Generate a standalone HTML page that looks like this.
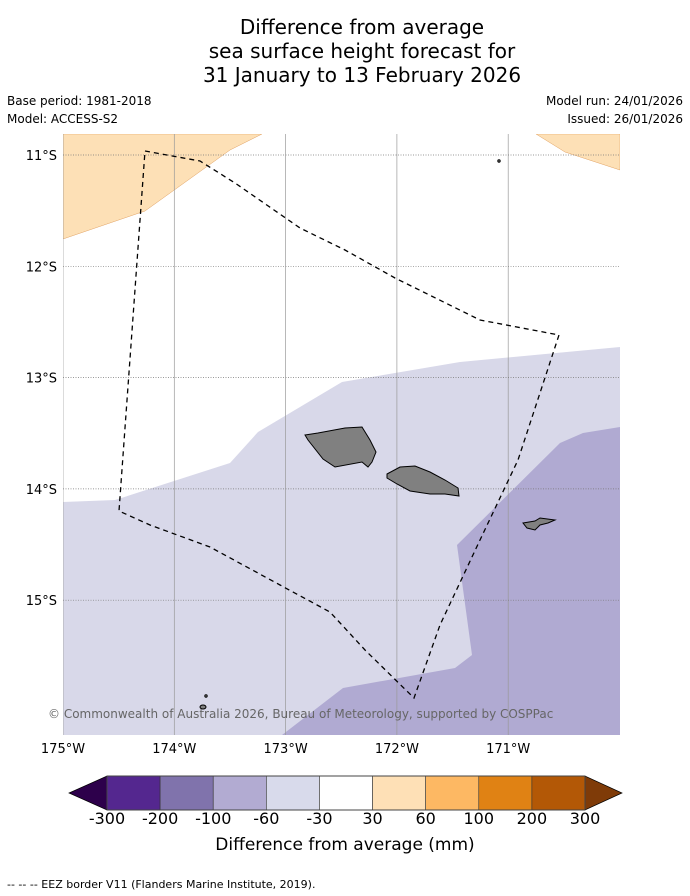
<!DOCTYPE html>
<html><head><meta charset="utf-8"><style>
body{margin:0;background:#fff;font-family:"Liberation Sans","DejaVu Sans",sans-serif}
#wrap{position:relative;width:690px;height:896px;overflow:hidden}
</style></head><body>
<div id="wrap">
<svg id="svg" width="690" height="896" xmlns="http://www.w3.org/2000/svg" font-family="DejaVu Sans, Liberation Sans, sans-serif">
<g font-size="20" text-anchor="middle" fill="#000">
<text x="362" y="34">Difference from average</text>
<text x="362" y="58">sea surface height forecast for</text>
<text x="362" y="82">31 January to 13 February 2026</text>
</g>
<g font-size="12" fill="#000">
<text x="7" y="105">Base period: 1981-2018</text>
<text x="7" y="123">Model: ACCESS-S2</text>
<text x="683" y="105" text-anchor="end">Model run: 24/01/2026</text>
<text x="683" y="123" text-anchor="end">Issued: 26/01/2026</text>
</g>
<defs><clipPath id="mc"><rect x="63" y="134" width="557" height="601"/></clipPath></defs>
<g id="map" clip-path="url(#mc)">
<rect x="63" y="134" width="557" height="601" fill="#fff"/>
<polygon points="63,134 262,134 230,150 145,211 63,239" fill="#fde0b6" stroke="#e0a060" stroke-width="0.5"/>
<polygon points="536,134 620,134 620,170 565,152" fill="#fde0b6" stroke="#e0a060" stroke-width="0.5"/>
<polygon points="63,502 115,500 230,463 258,432 342,382 460,362 620,347 620,735 63,735" fill="#d8d8e9"/>
<polygon points="620,427 583,433 560,443 457,545 472,655 455,668 343,688 282,735 620,735" fill="#b0aad2"/>
<g id="grid"></g>
<polyline points="145,151 200,161 235,183 300,228 345,250 395,278 480,320 559,335 518,460 480,540 440,625 414,698 365,650 330,612 280,585 210,547 150,525 119,511 145,151" fill="none" stroke="#000" stroke-width="1.3" stroke-dasharray="5,4"/>
<g fill="#808080" stroke="#000" stroke-width="1">
<polygon points="305,435 318,433 345,428 362,427 370,440 376,452 372,462 368,467 362,462 335,467 323,459 308,440"/>
<polygon points="387,474 400,467 415,466 430,472 445,480 458,488 459,496 445,494 430,494 410,491 397,484 387,478"/>
<polygon points="523,523 535,521 540,518 555,520 548,523 540,525 535,530 527,528"/>
<circle cx="499" cy="161" r="1.2"/><circle cx="206" cy="696" r="1.2"/><ellipse cx="203" cy="707" rx="3" ry="2"/>
</g>
</g>
<text x="48" y="718" font-size="12" fill="#666">© Commonwealth of Australia 2026, Bureau of Meteorology, supported by COSPPac</text>
<g id="axes" font-size="13" fill="#000"></g>
<g id="cbar"></g>
<text x="345" y="850" font-size="17" text-anchor="middle">Difference from average (mm)</text>
<text x="7" y="888" font-size="11">--  --  -- EEZ border V11 (Flanders Marine Institute, 2019).</text>
</svg>
</div>
<script>
const lonTicks=[-175,-174,-173,-172,-171];
const latTicks=[-11,-12,-13,-14,-15];
const lonLabels=["175°W","174°W","173°W","172°W","171°W"];
const latLabels=["11°S","12°S","13°S","14°S","15°S"];
const cbLevels=["-300","-200","-100","-60","-30","30","60","100","200","300"];
const cbColors=["#54278f","#8073ac","#b2abd2","#d8daeb","#ffffff","#fee0b6","#fdb863","#e08214","#b35806"];
const cbExt=["#2d004b","#7f3b08"];
const NS="http://www.w3.org/2000/svg";
const px=d=>63+(d+175)*111.3, py=d=>155+(-11-d)*111.3;
function mk(t,a,p){const e=document.createElementNS(NS,t);for(const k in a)e.setAttribute(k,a[k]);p.appendChild(e);return e;}
const grid=document.getElementById('grid'),axes=document.getElementById('axes'),cb=document.getElementById('cbar');
lonTicks.forEach((v,i)=>{
 const l=mk('line',{x1:px(v),x2:px(v),y1:134,y2:735,stroke:'#999','stroke-width':0.7},grid);
 
 
 const t=mk('text',{x:px(v),y:753,'text-anchor':'middle'},axes);t.textContent=lonLabels[i];
 
 
});
latTicks.forEach((v,i)=>{
 const l=mk('line',{x1:63,x2:620,y1:py(v),y2:py(v),stroke:'#777','stroke-width':0.7,'stroke-dasharray':'1,1.5'},grid);
 
 
 const t=mk('text',{x:57,y:py(v)+5,'text-anchor':'end'},axes);t.textContent=latLabels[i];
 
 
});
const x0=107,x1=585,y0=776,y1=810,w=(x1-x0)/cbColors.length;
const e1=mk('polygon',{points:`${x0},${y0} ${x0},${y1} 69,${(y0+y1)/2}`,fill:cbExt[0],stroke:'#000','stroke-width':0.7},cb);


const e2=mk('polygon',{points:`${x1},${y0} ${x1},${y1} 622,${(y0+y1)/2}`,fill:cbExt[1],stroke:'#000','stroke-width':0.7},cb);


cbColors.forEach((c,i)=>{
 const r=mk('rect',{x:x0+i*w,y:y0,width:w,height:y1-y0,fill:c,stroke:'#333','stroke-width':0.6},cb);
 
 
});
mk('rect',{x:x0,y:y0,width:x1-x0,height:y1-y0,fill:'none',stroke:'#444','stroke-width':1},cb);
cbLevels.forEach((s,i)=>{
 const t=mk('text',{x:x0+i*w,y:824,'text-anchor':'middle','font-size':16},cb);t.textContent=s;
 
 
});
</script>
</body></html>
